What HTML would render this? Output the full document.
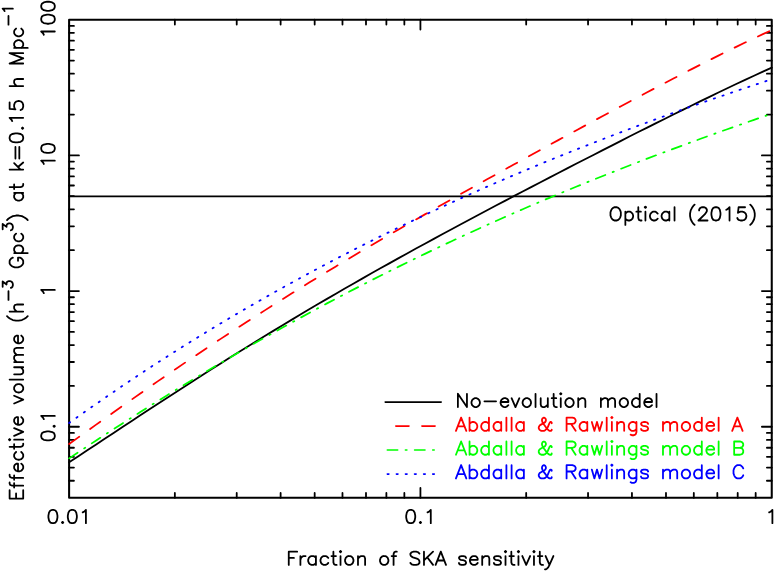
<!DOCTYPE html>
<html><head><meta charset="utf-8"><title>Effective volume vs fraction of SKA sensitivity</title>
<style>
html,body{margin:0;padding:0;background:#fff;}
body{width:774px;height:572px;overflow:hidden;font-family:"Liberation Sans",sans-serif;}
svg{display:block;}
</style></head><body>
<svg width="774" height="572" viewBox="0 0 774 572">
<title>Effective volume (h^-3 Gpc^3) at k=0.15 h Mpc^-1 versus Fraction of SKA sensitivity</title>
<rect width="774" height="572" fill="#fff"/>
<g fill="none" stroke="#000" stroke-linecap="round" stroke-linejoin="round">
<rect x="69.1" y="19.7" width="702.65" height="478.05" stroke-width="2.05"/>
<path d="M174.86,497.75 V492.90 M174.86,19.7 V24.55 M236.72,497.75 V492.90 M236.72,19.7 V24.55 M280.62,497.75 V492.90 M280.62,19.7 V24.55 M314.67,497.75 V492.90 M314.67,19.7 V24.55 M342.48,497.75 V492.90 M342.48,19.7 V24.55 M366.00,497.75 V492.90 M366.00,19.7 V24.55 M386.38,497.75 V492.90 M386.38,19.7 V24.55 M404.35,497.75 V492.90 M404.35,19.7 V24.55 M420.42,497.75 V487.90 M420.42,19.7 V29.55 M526.18,497.75 V492.90 M526.18,19.7 V24.55 M588.05,497.75 V492.90 M588.05,19.7 V24.55 M631.94,497.75 V492.90 M631.94,19.7 V24.55 M665.99,497.75 V492.90 M665.99,19.7 V24.55 M693.81,497.75 V492.90 M693.81,19.7 V24.55 M717.33,497.75 V492.90 M717.33,19.7 V24.55 M737.70,497.75 V492.90 M737.70,19.7 V24.55 M755.67,497.75 V492.90 M755.67,19.7 V24.55 M69.1,480.73 H73.95 M771.75,480.73 H766.90 M69.1,467.58 H73.95 M771.75,467.58 H766.90 M69.1,456.84 H73.95 M771.75,456.84 H766.90 M69.1,447.76 H73.95 M771.75,447.76 H766.90 M69.1,439.89 H73.95 M771.75,439.89 H766.90 M69.1,432.95 H73.95 M771.75,432.95 H766.90 M69.1,426.74 H78.95 M771.75,426.74 H761.90 M69.1,385.90 H73.95 M771.75,385.90 H766.90 M69.1,362.00 H73.95 M771.75,362.00 H766.90 M69.1,345.05 H73.95 M771.75,345.05 H766.90 M69.1,331.90 H73.95 M771.75,331.90 H766.90 M69.1,321.16 H73.95 M771.75,321.16 H766.90 M69.1,312.08 H73.95 M771.75,312.08 H766.90 M69.1,304.21 H73.95 M771.75,304.21 H766.90 M69.1,297.27 H73.95 M771.75,297.27 H766.90 M69.1,291.06 H78.95 M771.75,291.06 H761.90 M69.1,250.22 H73.95 M771.75,250.22 H766.90 M69.1,226.32 H73.95 M771.75,226.32 H766.90 M69.1,209.37 H73.95 M771.75,209.37 H766.90 M69.1,196.22 H73.95 M771.75,196.22 H766.90 M69.1,185.48 H73.95 M771.75,185.48 H766.90 M69.1,176.40 H73.95 M771.75,176.40 H766.90 M69.1,168.53 H73.95 M771.75,168.53 H766.90 M69.1,161.59 H73.95 M771.75,161.59 H766.90 M69.1,155.38 H78.95 M771.75,155.38 H761.90 M69.1,114.54 H73.95 M771.75,114.54 H766.90 M69.1,90.64 H73.95 M771.75,90.64 H766.90 M69.1,73.69 H73.95 M771.75,73.69 H766.90 M69.1,60.54 H73.95 M771.75,60.54 H766.90 M69.1,49.80 H73.95 M771.75,49.80 H766.90 M69.1,40.72 H73.95 M771.75,40.72 H766.90 M69.1,32.85 H73.95 M771.75,32.85 H766.90 M69.1,25.91 H73.95 M771.75,25.91 H766.90" stroke-width="1.8"/>
</g>
<g fill="none" stroke-linecap="round" stroke-linejoin="round">
<path d="M69.1,196.35 H771.75" stroke="#000" stroke-width="1.6" stroke-linecap="butt"/>
<path d="M69.1,462.31 L78.0,456.46 L86.9,450.59 L95.8,444.71 L104.7,438.83 L113.6,432.96 L122.5,427.08 L131.4,421.22 L140.3,415.37 L149.1,409.53 L158.0,403.71 L166.9,397.91 L175.8,392.14 L184.7,386.39 L193.6,380.66 L202.5,374.97 L211.4,369.31 L220.3,363.68 L229.2,358.08 L238.1,352.52 L247.0,346.99 L255.9,341.49 L264.8,336.04 L273.7,330.61 L282.6,325.23 L291.5,319.88 L300.4,314.57 L309.2,309.29 L318.1,304.05 L327.0,298.85 L335.9,293.68 L344.8,288.54 L353.7,283.44 L362.6,278.37 L371.5,273.33 L380.4,268.32 L389.3,263.34 L398.2,258.39 L407.1,253.47 L416.0,248.57 L424.9,243.70 L433.8,238.86 L442.7,234.03 L451.6,229.23 L460.4,224.45 L469.3,219.69 L478.2,214.95 L487.1,210.23 L496.0,205.52 L504.9,200.83 L513.8,196.16 L522.7,191.50 L531.6,186.85 L540.5,182.22 L549.4,177.60 L558.3,172.99 L567.2,168.40 L576.1,163.81 L585.0,159.24 L593.9,154.68 L602.8,150.13 L611.7,145.60 L620.5,141.08 L629.4,136.57 L638.3,132.07 L647.2,127.60 L656.1,123.13 L665.0,118.69 L673.9,114.27 L682.8,109.87 L691.7,105.49 L700.6,101.14 L709.5,96.82 L718.4,92.53 L727.3,88.27 L736.2,84.06 L745.1,79.88 L754.0,75.75 L762.9,71.67 L771.8,67.65" stroke="#000" stroke-width="1.8"/>
<path d="M69.1,444.04 L78.0,437.64 L86.9,431.27 L95.8,424.91 L104.7,418.57 L113.6,412.26 L122.5,405.97 L131.4,399.72 L140.3,393.49 L149.1,387.30 L158.0,381.15 L166.9,375.03 L175.8,368.95 L184.7,362.90 L193.6,356.90 L202.5,350.94 L211.4,345.02 L220.3,339.14 L229.2,333.30 L238.1,327.50 L247.0,321.75 L255.9,316.04 L264.8,310.37 L273.7,304.73 L282.6,299.14 L291.5,293.59 L300.4,288.08 L309.2,282.60 L318.1,277.16 L327.0,271.76 L335.9,266.39 L344.8,261.06 L353.7,255.76 L362.6,250.49 L371.5,245.25 L380.4,240.04 L389.3,234.85 L398.2,229.70 L407.1,224.57 L416.0,219.46 L424.9,214.37 L433.8,209.31 L442.7,204.26 L451.6,199.24 L460.4,194.23 L469.3,189.24 L478.2,184.27 L487.1,179.31 L496.0,174.37 L504.9,169.44 L513.8,164.52 L522.7,159.61 L531.6,154.72 L540.5,149.84 L549.4,144.97 L558.3,140.11 L567.2,135.27 L576.1,130.43 L585.0,125.61 L593.9,120.80 L602.8,116.00 L611.7,111.22 L620.5,106.46 L629.4,101.71 L638.3,96.98 L647.2,92.27 L656.1,87.58 L665.0,82.92 L673.9,78.28 L682.8,73.68 L691.7,69.11 L700.6,64.57 L709.5,60.07 L718.4,55.62 L727.3,51.21 L736.2,46.86 L745.1,42.56 L754.0,38.32 L762.9,34.15 L771.8,30.05" stroke="#f00" stroke-width="1.75" stroke-dasharray="12.5 13.35"/>
<path d="M69.1,458.38 L78.0,452.46 L86.9,446.57 L95.8,440.73 L104.7,434.92 L113.6,429.16 L122.5,423.44 L131.4,417.75 L140.3,412.11 L149.1,406.51 L158.0,400.96 L166.9,395.44 L175.8,389.96 L184.7,384.53 L193.6,379.14 L202.5,373.79 L211.4,368.49 L220.3,363.22 L229.2,358.00 L238.1,352.83 L247.0,347.69 L255.9,342.60 L264.8,337.55 L273.7,332.54 L282.6,327.58 L291.5,322.65 L300.4,317.77 L309.2,312.94 L318.1,308.14 L327.0,303.39 L335.9,298.68 L344.8,294.01 L353.7,289.39 L362.6,284.80 L371.5,280.26 L380.4,275.76 L389.3,271.30 L398.2,266.89 L407.1,262.51 L416.0,258.17 L424.9,253.88 L433.8,249.62 L442.7,245.41 L451.6,241.23 L460.4,237.10 L469.3,233.00 L478.2,228.94 L487.1,224.92 L496.0,220.94 L504.9,216.99 L513.8,213.09 L522.7,209.22 L531.6,205.38 L540.5,201.59 L549.4,197.82 L558.3,194.10 L567.2,190.40 L576.1,186.74 L585.0,183.12 L593.9,179.53 L602.8,175.97 L611.7,172.44 L620.5,168.95 L629.4,165.48 L638.3,162.05 L647.2,158.64 L656.1,155.26 L665.0,151.92 L673.9,148.60 L682.8,145.30 L691.7,142.04 L700.6,138.80 L709.5,135.58 L718.4,132.39 L727.3,129.22 L736.2,126.07 L745.1,122.95 L754.0,119.85 L762.9,116.77 L771.8,113.70" stroke="#0f0" stroke-width="1.75" stroke-dasharray="10.2 7.83 1.3 7.83"/>
<path d="M69.1,423.08 L78.0,416.71 L86.9,410.41 L95.8,404.17 L104.7,398.01 L113.6,391.91 L122.5,385.87 L131.4,379.90 L140.3,374.00 L149.1,368.16 L158.0,362.38 L166.9,356.66 L175.8,351.01 L184.7,345.42 L193.6,339.88 L202.5,334.41 L211.4,328.99 L220.3,323.64 L229.2,318.34 L238.1,313.09 L247.0,307.90 L255.9,302.77 L264.8,297.70 L273.7,292.67 L282.6,287.70 L291.5,282.79 L300.4,277.92 L309.2,273.11 L318.1,268.34 L327.0,263.63 L335.9,258.97 L344.8,254.35 L353.7,249.79 L362.6,245.27 L371.5,240.80 L380.4,236.37 L389.3,231.99 L398.2,227.66 L407.1,223.37 L416.0,219.12 L424.9,214.92 L433.8,210.76 L442.7,206.65 L451.6,202.57 L460.4,198.54 L469.3,194.54 L478.2,190.59 L487.1,186.68 L496.0,182.80 L504.9,178.97 L513.8,175.17 L522.7,171.41 L531.6,167.68 L540.5,164.00 L549.4,160.34 L558.3,156.73 L567.2,153.15 L576.1,149.60 L585.0,146.08 L593.9,142.60 L602.8,139.16 L611.7,135.74 L620.5,132.36 L629.4,129.00 L638.3,125.68 L647.2,122.39 L656.1,119.13 L665.0,115.90 L673.9,112.70 L682.8,109.52 L691.7,106.38 L700.6,103.26 L709.5,100.17 L718.4,97.10 L727.3,94.07 L736.2,91.05 L745.1,88.07 L754.0,85.11 L762.9,82.17 L771.8,79.26" stroke="#00f" stroke-width="1.8" stroke-dasharray="1.3 7.755"/>
<path d="M385.2,402.1 H441.2" stroke="#000" stroke-width="1.6"/>
<path d="M395.8,426.1 H441.2" stroke="#f00" stroke-width="1.6" stroke-dasharray="13.2 12.9"/>
<path d="M387.3,450 H441.2" stroke="#0f0" stroke-width="1.6" stroke-dasharray="10.4 7.7 1.5 7.7"/>
<path d="M387.3,474.1 H441.2" stroke="#00f" stroke-width="1.6" stroke-dasharray="1.6 7.48"/>
</g>
<g fill="none" stroke-width="1.8" stroke-linecap="round" stroke-linejoin="round">
<path stroke="#000" d="M52.28,509.88L50.34,510.51L49.04,512.41L48.40,515.57L48.40,517.46L49.04,520.62L50.34,522.52L52.28,523.15L53.57,523.15L55.51,522.52L56.81,520.62L57.45,517.46L57.45,515.57L56.81,512.41L55.51,510.51L53.57,509.88L52.28,509.88 M62.63,521.89L61.98,522.52L62.63,523.15L63.28,522.52L62.63,521.89 M71.69,509.88L69.75,510.51L68.45,512.41L67.81,515.57L67.81,517.46L68.45,520.62L69.75,522.52L71.69,523.15L72.98,523.15L74.92,522.52L76.22,520.62L76.86,517.46L76.86,515.57L76.22,512.41L74.92,510.51L72.98,509.88L71.69,509.88 M82.69,512.41L83.98,511.77L85.92,509.88L85.92,523.15 M410.07,509.88L408.13,510.51L406.84,512.41L406.19,515.57L406.19,517.46L406.84,520.62L408.13,522.52L410.07,523.15L411.37,523.15L413.31,522.52L414.60,520.62L415.25,517.46L415.25,515.57L414.60,512.41L413.31,510.51L411.37,509.88L410.07,509.88 M420.42,521.89L419.78,522.52L420.42,523.15L421.07,522.52L420.42,521.89 M427.54,512.41L428.84,511.77L430.78,509.88L430.78,523.15 M769.16,512.41L770.46,511.77L772.40,509.88L772.40,523.15 M288.76,551.63L288.76,564.90 M288.76,551.63L297.17,551.63 M288.76,557.95L293.94,557.95 M300.41,556.05L300.41,564.90 M300.41,559.84L301.05,557.95L302.35,556.68L303.64,556.05L305.58,556.05 M315.93,556.05L315.93,564.90 M315.93,557.95L314.64,556.68L313.35,556.05L311.41,556.05L310.11,556.68L308.82,557.95L308.17,559.84L308.17,561.11L308.82,563.00L310.11,564.27L311.41,564.90L313.35,564.90L314.64,564.27L315.93,563.00 M328.23,557.95L326.93,556.68L325.64,556.05L323.70,556.05L322.40,556.68L321.11,557.95L320.46,559.84L320.46,561.11L321.11,563.00L322.40,564.27L323.70,564.90L325.64,564.90L326.93,564.27L328.23,563.00 M333.40,551.63L333.40,562.37L334.05,564.27L335.34,564.90L336.64,564.90 M331.46,556.05L335.99,556.05 M339.87,551.63L340.52,552.26L341.17,551.63L340.52,551.00L339.87,551.63 M340.52,556.05L340.52,564.90 M348.28,556.05L346.99,556.68L345.70,557.95L345.05,559.84L345.05,561.11L345.70,563.00L346.99,564.27L348.28,564.90L350.23,564.90L351.52,564.27L352.81,563.00L353.46,561.11L353.46,559.84L352.81,557.95L351.52,556.68L350.23,556.05L348.28,556.05 M357.99,556.05L357.99,564.90 M357.99,558.58L359.93,556.68L361.22,556.05L363.17,556.05L364.46,556.68L365.11,558.58L365.11,564.90 M383.22,556.05L381.93,556.68L380.63,557.95L379.99,559.84L379.99,561.11L380.63,563.00L381.93,564.27L383.22,564.90L385.16,564.90L386.46,564.27L387.75,563.00L388.40,561.11L388.40,559.84L387.75,557.95L386.46,556.68L385.16,556.05L383.22,556.05 M396.81,551.63L395.52,551.63L394.22,552.26L393.57,554.16L393.57,564.90 M391.63,556.05L396.16,556.05 M419.45,553.52L418.16,552.26L416.22,551.63L413.63,551.63L411.69,552.26L410.40,553.52L410.40,554.79L411.04,556.05L411.69,556.68L412.98,557.32L416.87,558.58L418.16,559.21L418.81,559.84L419.45,561.11L419.45,563.00L418.16,564.27L416.22,564.90L413.63,564.90L411.69,564.27L410.40,563.00 M423.98,551.63L423.98,564.90 M433.04,551.63L423.98,560.48 M427.22,557.32L433.04,564.90 M440.81,551.63L435.63,564.90 M440.81,551.63L445.98,564.90 M437.57,560.48L444.04,560.48 M466.04,557.95L465.39,556.68L463.45,556.05L461.51,556.05L459.57,556.68L458.92,557.95L459.57,559.21L460.86,559.84L464.10,560.48L465.39,561.11L466.04,562.37L466.04,563.00L465.39,564.27L463.45,564.90L461.51,564.90L459.57,564.27L458.92,563.00 M469.92,559.84L477.68,559.84L477.68,558.58L477.04,557.32L476.39,556.68L475.10,556.05L473.16,556.05L471.86,556.68L470.57,557.95L469.92,559.84L469.92,561.11L470.57,563.00L471.86,564.27L473.16,564.90L475.10,564.90L476.39,564.27L477.68,563.00 M482.21,556.05L482.21,564.90 M482.21,558.58L484.15,556.68L485.45,556.05L487.39,556.05L488.68,556.68L489.33,558.58L489.33,564.90 M500.98,557.95L500.33,556.68L498.39,556.05L496.45,556.05L494.51,556.68L493.86,557.95L494.51,559.21L495.80,559.84L499.04,560.48L500.33,561.11L500.98,562.37L500.98,563.00L500.33,564.27L498.39,564.90L496.45,564.90L494.51,564.27L493.86,563.00 M504.86,551.63L505.51,552.26L506.15,551.63L505.51,551.00L504.86,551.63 M505.51,556.05L505.51,564.90 M511.33,551.63L511.33,562.37L511.98,564.27L513.27,564.90L514.56,564.90 M509.39,556.05L513.92,556.05 M517.80,551.63L518.45,552.26L519.09,551.63L518.45,551.00L517.80,551.63 M518.45,556.05L518.45,564.90 M522.33,556.05L526.21,564.90 M530.09,556.05L526.21,564.90 M533.33,551.63L533.97,552.26L534.62,551.63L533.97,551.00L533.33,551.63 M533.97,556.05L533.97,564.90 M539.80,551.63L539.80,562.37L540.44,564.27L541.74,564.90L543.03,564.90 M537.86,556.05L542.38,556.05 M545.62,556.05L549.50,564.90 M553.38,556.05L549.50,564.90L548.21,567.43L546.91,568.69L545.62,569.32L544.97,569.32 M43.80,34.73L43.15,33.43L41.21,31.49L54.80,31.49 M41.21,19.85L41.86,21.79L43.80,23.08L47.04,23.73L48.98,23.73L52.21,23.08L54.15,21.79L54.80,19.85L54.80,18.55L54.15,16.61L52.21,15.32L48.98,14.67L47.04,14.67L43.80,15.32L41.86,16.61L41.21,18.55L41.21,19.85 M41.21,6.91L41.86,8.85L43.80,10.14L47.04,10.79L48.98,10.79L52.21,10.14L54.15,8.85L54.80,6.91L54.80,5.61L54.15,3.67L52.21,2.38L48.98,1.73L47.04,1.73L43.80,2.38L41.86,3.67L41.21,5.61L41.21,6.91 M43.80,163.94L43.15,162.64L41.21,160.70L54.80,160.70 M41.21,149.06L41.86,151.00L43.80,152.29L47.04,152.94L48.98,152.94L52.21,152.29L54.15,151.00L54.80,149.06L54.80,147.76L54.15,145.82L52.21,144.53L48.98,143.88L47.04,143.88L43.80,144.53L41.86,145.82L41.21,147.76L41.21,149.06 M43.80,293.15L43.15,291.85L41.21,289.91L54.80,289.91 M41.21,436.59L41.86,438.53L43.80,439.83L47.04,440.47L48.98,440.47L52.21,439.83L54.15,438.53L54.80,436.59L54.80,435.30L54.15,433.36L52.21,432.06L48.98,431.42L47.04,431.42L43.80,432.06L41.86,433.36L41.21,435.30L41.21,436.59 M53.51,426.24L54.15,426.89L54.80,426.24L54.15,425.59L53.51,426.24 M43.80,419.12L43.15,417.83L41.21,415.89L54.80,415.89 M9.61,498.59L23.20,498.59 M9.61,498.59L9.61,490.17 M16.08,498.59L16.08,493.41 M23.20,498.59L23.20,490.17 M9.61,482.41L9.61,483.70L10.26,485.00L12.20,485.65L23.20,485.65 M14.14,487.59L14.14,483.06 M9.61,474.65L9.61,475.94L10.26,477.23L12.20,477.88L23.20,477.88 M14.14,479.82L14.14,475.29 M18.02,471.41L18.02,463.65L16.73,463.65L15.44,464.29L14.79,464.94L14.14,466.24L14.14,468.18L14.79,469.47L16.08,470.76L18.02,471.41L19.32,471.41L21.26,470.76L22.55,469.47L23.20,468.18L23.20,466.24L22.55,464.94L21.26,463.65 M16.08,452.00L14.79,453.30L14.14,454.59L14.14,456.53L14.79,457.82L16.08,459.12L18.02,459.77L19.32,459.77L21.26,459.12L22.55,457.82L23.20,456.53L23.20,454.59L22.55,453.30L21.26,452.00 M9.61,446.83L20.61,446.83L22.55,446.18L23.20,444.88L23.20,443.59 M14.14,448.77L14.14,444.24 M9.61,440.36L10.26,439.71L9.61,439.06L8.97,439.71L9.61,440.36 M14.14,439.71L23.20,439.71 M14.14,435.83L23.20,431.94 M14.14,428.06L23.20,431.94 M18.02,424.83L18.02,417.06L16.73,417.06L15.44,417.71L14.79,418.36L14.14,419.65L14.14,421.59L14.79,422.89L16.08,424.18L18.02,424.83L19.32,424.83L21.26,424.18L22.55,422.89L23.20,421.59L23.20,419.65L22.55,418.36L21.26,417.06 M14.14,403.48L23.20,399.59 M14.14,395.71L23.20,399.59 M14.14,389.24L14.79,390.54L16.08,391.83L18.02,392.48L19.32,392.48L21.26,391.83L22.55,390.54L23.20,389.24L23.20,387.30L22.55,386.01L21.26,384.71L19.32,384.07L18.02,384.07L16.08,384.71L14.79,386.01L14.14,387.30L14.14,389.24 M9.61,379.54L23.20,379.54 M14.14,374.36L20.61,374.36L22.55,373.71L23.20,372.42L23.20,370.48L22.55,369.19L20.61,367.24 M14.14,367.24L23.20,367.24 M14.14,362.07L23.20,362.07 M16.73,362.07L14.79,360.13L14.14,358.83L14.14,356.89L14.79,355.60L16.73,354.95L23.20,354.95 M16.73,354.95L14.79,353.01L14.14,351.72L14.14,349.78L14.79,348.48L16.73,347.83L23.20,347.83 M18.02,343.31L18.02,335.54L16.73,335.54L15.44,336.19L14.79,336.84L14.14,338.13L14.14,340.07L14.79,341.36L16.08,342.66L18.02,343.31L19.32,343.31L21.26,342.66L22.55,341.36L23.20,340.07L23.20,338.13L22.55,336.84L21.26,335.54 M7.02,316.13L8.32,317.43L10.26,318.72L12.85,320.01L16.08,320.66L18.67,320.66L21.91,320.01L24.49,318.72L26.43,317.43L27.73,316.13 M9.61,311.60L23.20,311.60 M16.73,311.60L14.79,309.66L14.14,308.37L14.14,306.43L14.79,305.13L16.73,304.49L23.20,304.49 M8.48,299.96L8.48,291.22 M2.66,286.85L2.66,281.52L6.54,284.43L6.54,282.97L7.02,282.00L7.51,281.52L8.97,281.03L9.94,281.03L11.39,281.52L12.36,282.49L12.85,283.94L12.85,285.40L12.36,286.85L11.88,287.34L10.91,287.82 M12.85,257.58L11.55,258.22L10.26,259.52L9.61,260.81L9.61,263.40L10.26,264.69L11.55,265.99L12.85,266.64L14.79,267.28L18.02,267.28L19.96,266.64L21.26,265.99L22.55,264.69L23.20,263.40L23.20,260.81L22.55,259.52L21.26,258.22L19.96,257.58L18.02,257.58 M18.02,260.81L18.02,257.58 M14.14,253.05L27.73,253.05 M16.08,253.05L14.79,251.75L14.14,250.46L14.14,248.52L14.79,247.23L16.08,245.93L18.02,245.28L19.32,245.28L21.26,245.93L22.55,247.23L23.20,248.52L23.20,250.46L22.55,251.75L21.26,253.05 M16.08,233.64L14.79,234.93L14.14,236.23L14.14,238.17L14.79,239.46L16.08,240.76L18.02,241.40L19.32,241.40L21.26,240.76L22.55,239.46L23.20,238.17L23.20,236.23L22.55,234.93L21.26,233.64 M2.66,229.27L2.66,223.93L6.54,226.85L6.54,225.39L7.02,224.42L7.51,223.93L8.97,223.45L9.94,223.45L11.39,223.93L12.36,224.90L12.85,226.36L12.85,227.82L12.36,229.27L11.88,229.76L10.91,230.24 M7.02,220.05L8.32,218.76L10.26,217.46L12.85,216.17L16.08,215.52L18.67,215.52L21.91,216.17L24.49,217.46L26.43,218.76L27.73,220.05 M14.14,192.88L23.20,192.88 M16.08,192.88L14.79,194.17L14.14,195.47L14.14,197.41L14.79,198.70L16.08,199.99L18.02,200.64L19.32,200.64L21.26,199.99L22.55,198.70L23.20,197.41L23.20,195.47L22.55,194.17L21.26,192.88 M9.61,187.05L20.61,187.05L22.55,186.41L23.20,185.11L23.20,183.82 M14.14,189.00L14.14,184.47 M9.61,169.59L23.20,169.59 M14.14,163.12L20.61,169.59 M18.02,167.00L23.20,162.47 M15.44,158.59L15.44,146.94 M19.32,158.59L19.32,146.94 M9.61,138.53L10.26,140.47L12.20,141.76L15.44,142.41L17.38,142.41L20.61,141.76L22.55,140.47L23.20,138.53L23.20,137.24L22.55,135.29L20.61,134.00L17.38,133.35L15.44,133.35L12.20,134.00L10.26,135.29L9.61,137.24L9.61,138.53 M21.91,128.18L22.55,128.82L23.20,128.18L22.55,127.53L21.91,128.18 M12.20,121.06L11.55,119.77L9.61,117.83L23.20,117.83 M9.61,102.30L9.61,108.77L15.44,109.41L14.79,108.77L14.14,106.83L14.14,104.89L14.79,102.94L16.08,101.65L18.02,101.00L19.32,101.00L21.26,101.65L22.55,102.94L23.20,104.89L23.20,106.83L22.55,108.77L21.91,109.41L20.61,110.06 M9.61,86.12L23.20,86.12 M16.73,86.12L14.79,84.18L14.14,82.89L14.14,80.95L14.79,79.65L16.73,79.01L23.20,79.01 M9.61,63.48L23.20,63.48 M9.61,63.48L23.20,58.30 M9.61,53.13L23.20,58.30 M9.61,53.13L23.20,53.13 M14.14,47.95L27.73,47.95 M16.08,47.95L14.79,46.66L14.14,45.36L14.14,43.42L14.79,42.13L16.08,40.83L18.02,40.19L19.32,40.19L21.26,40.83L22.55,42.13L23.20,43.42L23.20,45.36L22.55,46.66L21.26,47.95 M16.08,28.54L14.79,29.83L14.14,31.13L14.14,33.07L14.79,34.36L16.08,35.66L18.02,36.30L19.32,36.30L21.26,35.66L22.55,34.36L23.20,33.07L23.20,31.13L22.55,29.83L21.26,28.54 M8.48,24.66L8.48,15.92 M4.60,11.07L4.11,10.10L2.66,8.64L12.85,8.64 M614.36,207.23L613.07,207.86L611.77,209.12L611.13,210.39L610.48,212.28L610.48,215.44L611.13,217.34L611.77,218.60L613.07,219.87L614.36,220.50L616.95,220.50L618.25,219.87L619.54,218.60L620.19,217.34L620.83,215.44L620.83,212.28L620.19,210.39L619.54,209.12L618.25,207.86L616.95,207.23L614.36,207.23 M625.36,211.65L625.36,224.92 M625.36,213.55L626.66,212.28L627.95,211.65L629.89,211.65L631.19,212.28L632.48,213.55L633.13,215.44L633.13,216.71L632.48,218.60L631.19,219.87L629.89,220.50L627.95,220.50L626.66,219.87L625.36,218.60 M638.30,207.23L638.30,217.97L638.95,219.87L640.24,220.50L641.54,220.50 M636.36,211.65L640.89,211.65 M644.77,207.23L645.42,207.86L646.07,207.23L645.42,206.60L644.77,207.23 M645.42,211.65L645.42,220.50 M657.71,213.55L656.42,212.28L655.12,211.65L653.18,211.65L651.89,212.28L650.60,213.55L649.95,215.44L649.95,216.71L650.60,218.60L651.89,219.87L653.18,220.50L655.12,220.50L656.42,219.87L657.71,218.60 M669.36,211.65L669.36,220.50 M669.36,213.55L668.06,212.28L666.77,211.65L664.83,211.65L663.54,212.28L662.24,213.55L661.59,215.44L661.59,216.71L662.24,218.60L663.54,219.87L664.83,220.50L666.77,220.50L668.06,219.87L669.36,218.60 M674.53,207.23L674.53,220.50 M694.59,204.70L693.30,205.96L692.00,207.86L690.71,210.39L690.06,213.55L690.06,216.08L690.71,219.24L692.00,221.76L693.30,223.66L694.59,224.92 M699.12,210.39L699.12,209.76L699.77,208.49L700.41,207.86L701.71,207.23L704.30,207.23L705.59,207.86L706.24,208.49L706.88,209.76L706.88,211.02L706.24,212.28L704.94,214.18L698.47,220.50L707.53,220.50 M715.30,207.23L713.35,207.86L712.06,209.76L711.41,212.92L711.41,214.81L712.06,217.97L713.35,219.87L715.30,220.50L716.59,220.50L718.53,219.87L719.82,217.97L720.47,214.81L720.47,212.92L719.82,209.76L718.53,207.86L716.59,207.23L715.30,207.23 M726.29,209.76L727.59,209.12L729.53,207.23L729.53,220.50 M745.06,207.23L738.59,207.23L737.94,212.92L738.59,212.28L740.53,211.65L742.47,211.65L744.41,212.28L745.70,213.55L746.35,215.44L746.35,216.71L745.70,218.60L744.41,219.87L742.47,220.50L740.53,220.50L738.59,219.87L737.94,219.24L737.29,217.97 M750.23,204.70L751.53,205.96L752.82,207.86L754.12,210.39L754.76,213.55L754.76,216.08L754.12,219.24L752.82,221.76L751.53,223.66L750.23,224.92 M457.89,393.78L457.89,407.05 M457.89,393.78L466.95,407.05 M466.95,393.78L466.95,407.05 M474.71,398.20L473.42,398.83L472.12,400.10L471.48,401.99L471.48,403.26L472.12,405.15L473.42,406.42L474.71,407.05L476.65,407.05L477.94,406.42L479.24,405.15L479.89,403.26L479.89,401.99L479.24,400.10L477.94,398.83L476.65,398.20L474.71,398.20 M484.42,401.36L496.06,401.36 M500.59,401.99L508.35,401.99L508.35,400.73L507.71,399.47L507.06,398.83L505.77,398.20L503.82,398.20L502.53,398.83L501.24,400.10L500.59,401.99L500.59,403.26L501.24,405.15L502.53,406.42L503.82,407.05L505.77,407.05L507.06,406.42L508.35,405.15 M511.59,398.20L515.47,407.05 M519.35,398.20L515.47,407.05 M525.82,398.20L524.53,398.83L523.24,400.10L522.59,401.99L522.59,403.26L523.24,405.15L524.53,406.42L525.82,407.05L527.76,407.05L529.06,406.42L530.35,405.15L531.00,403.26L531.00,401.99L530.35,400.10L529.06,398.83L527.76,398.20L525.82,398.20 M535.53,393.78L535.53,407.05 M540.70,398.20L540.70,404.52L541.35,406.42L542.64,407.05L544.59,407.05L545.88,406.42L547.82,404.52 M547.82,398.20L547.82,407.05 M553.64,393.78L553.64,404.52L554.29,406.42L555.59,407.05L556.88,407.05 M551.70,398.20L556.23,398.20 M560.11,393.78L560.76,394.41L561.41,393.78L560.76,393.15L560.11,393.78 M560.76,398.20L560.76,407.05 M568.52,398.20L567.23,398.83L565.94,400.10L565.29,401.99L565.29,403.26L565.94,405.15L567.23,406.42L568.52,407.05L570.47,407.05L571.76,406.42L573.05,405.15L573.70,403.26L573.70,401.99L573.05,400.10L571.76,398.83L570.47,398.20L568.52,398.20 M578.23,398.20L578.23,407.05 M578.23,400.73L580.17,398.83L581.47,398.20L583.41,398.20L584.70,398.83L585.35,400.73L585.35,407.05 M600.88,398.20L600.88,407.05 M600.88,400.73L602.82,398.83L604.11,398.20L606.05,398.20L607.35,398.83L607.99,400.73L607.99,407.05 M607.99,400.73L609.93,398.83L611.23,398.20L613.17,398.20L614.46,398.83L615.11,400.73L615.11,407.05 M622.87,398.20L621.58,398.83L620.29,400.10L619.64,401.99L619.64,403.26L620.29,405.15L621.58,406.42L622.87,407.05L624.81,407.05L626.11,406.42L627.40,405.15L628.05,403.26L628.05,401.99L627.40,400.10L626.11,398.83L624.81,398.20L622.87,398.20 M639.70,393.78L639.70,407.05 M639.70,400.10L638.40,398.83L637.11,398.20L635.17,398.20L633.87,398.83L632.58,400.10L631.93,401.99L631.93,403.26L632.58,405.15L633.87,406.42L635.17,407.05L637.11,407.05L638.40,406.42L639.70,405.15 M644.22,401.99L651.99,401.99L651.99,400.73L651.34,399.47L650.69,398.83L649.40,398.20L647.46,398.20L646.16,398.83L644.87,400.10L644.22,401.99L644.22,403.26L644.87,405.15L646.16,406.42L647.46,407.05L649.40,407.05L650.69,406.42L651.99,405.15 M656.52,393.78L656.52,407.05"/>
<path stroke="#f00" d="M461.12,417.58L455.95,430.85 M461.12,417.58L466.30,430.85 M457.89,426.43L464.36,426.43 M469.53,417.58L469.53,430.85 M469.53,423.90L470.83,422.63L472.12,422.00L474.06,422.00L475.36,422.63L476.65,423.90L477.30,425.79L477.30,427.06L476.65,428.95L475.36,430.22L474.06,430.85L472.12,430.85L470.83,430.22L469.53,428.95 M488.94,417.58L488.94,430.85 M488.94,423.90L487.65,422.63L486.36,422.00L484.42,422.00L483.12,422.63L481.83,423.90L481.18,425.79L481.18,427.06L481.83,428.95L483.12,430.22L484.42,430.85L486.36,430.85L487.65,430.22L488.94,428.95 M501.24,422.00L501.24,430.85 M501.24,423.90L499.94,422.63L498.65,422.00L496.71,422.00L495.41,422.63L494.12,423.90L493.47,425.79L493.47,427.06L494.12,428.95L495.41,430.22L496.71,430.85L498.65,430.85L499.94,430.22L501.24,428.95 M506.41,417.58L506.41,430.85 M511.59,417.58L511.59,430.85 M523.88,422.00L523.88,430.85 M523.88,423.90L522.59,422.63L521.29,422.00L519.35,422.00L518.06,422.63L516.76,423.90L516.12,425.79L516.12,427.06L516.76,428.95L518.06,430.22L519.35,430.85L521.29,430.85L522.59,430.22L523.88,428.95 M551.70,423.27L551.70,422.63L551.06,422.00L550.41,422.00L549.76,422.63L549.12,423.90L547.82,427.06L546.53,428.95L545.23,430.22L543.94,430.85L541.35,430.85L540.06,430.22L539.41,429.59L538.76,428.32L538.76,427.06L539.41,425.79L540.06,425.16L544.59,422.63L545.23,422.00L545.88,420.74L545.88,419.47L545.23,418.21L543.94,417.58L542.64,418.21L542.00,419.47L542.00,420.74L542.64,422.63L543.94,424.53L547.17,428.95L548.47,430.22L549.76,430.85L551.06,430.85L551.70,430.22L551.70,429.59 M566.58,417.58L566.58,430.85 M566.58,417.58L572.41,417.58L574.35,418.21L575.00,418.84L575.64,420.11L575.64,421.37L575.00,422.63L574.35,423.27L572.41,423.90L566.58,423.90 M571.11,423.90L575.64,430.85 M587.29,422.00L587.29,430.85 M587.29,423.90L585.99,422.63L584.70,422.00L582.76,422.00L581.47,422.63L580.17,423.90L579.52,425.79L579.52,427.06L580.17,428.95L581.47,430.22L582.76,430.85L584.70,430.85L585.99,430.22L587.29,428.95 M591.82,422.00L594.40,430.85 M596.99,422.00L594.40,430.85 M596.99,422.00L599.58,430.85 M602.17,422.00L599.58,430.85 M606.70,417.58L606.70,430.85 M611.23,417.58L611.87,418.21L612.52,417.58L611.87,416.95L611.23,417.58 M611.87,422.00L611.87,430.85 M617.05,422.00L617.05,430.85 M617.05,424.53L618.99,422.63L620.29,422.00L622.23,422.00L623.52,422.63L624.17,424.53L624.17,430.85 M636.46,422.00L636.46,432.11L635.81,434.01L635.17,434.64L633.87,435.27L631.93,435.27L630.64,434.64 M636.46,423.90L635.17,422.63L633.87,422.00L631.93,422.00L630.64,422.63L629.34,423.90L628.70,425.79L628.70,427.06L629.34,428.95L630.64,430.22L631.93,430.85L633.87,430.85L635.17,430.22L636.46,428.95 M648.11,423.90L647.46,422.63L645.52,422.00L643.58,422.00L641.64,422.63L640.99,423.90L641.64,425.16L642.93,425.79L646.16,426.43L647.46,427.06L648.11,428.32L648.11,428.95L647.46,430.22L645.52,430.85L643.58,430.85L641.64,430.22L640.99,428.95 M662.99,422.00L662.99,430.85 M662.99,424.53L664.93,422.63L666.22,422.00L668.16,422.00L669.46,422.63L670.10,424.53L670.10,430.85 M670.10,424.53L672.05,422.63L673.34,422.00L675.28,422.00L676.57,422.63L677.22,424.53L677.22,430.85 M684.99,422.00L683.69,422.63L682.40,423.90L681.75,425.79L681.75,427.06L682.40,428.95L683.69,430.22L684.99,430.85L686.93,430.85L688.22,430.22L689.51,428.95L690.16,427.06L690.16,425.79L689.51,423.90L688.22,422.63L686.93,422.00L684.99,422.00 M701.81,417.58L701.81,430.85 M701.81,423.90L700.51,422.63L699.22,422.00L697.28,422.00L695.98,422.63L694.69,423.90L694.04,425.79L694.04,427.06L694.69,428.95L695.98,430.22L697.28,430.85L699.22,430.85L700.51,430.22L701.81,428.95 M706.34,425.79L714.10,425.79L714.10,424.53L713.45,423.27L712.81,422.63L711.51,422.00L709.57,422.00L708.28,422.63L706.98,423.90L706.34,425.79L706.34,427.06L706.98,428.95L708.28,430.22L709.57,430.85L711.51,430.85L712.81,430.22L714.10,428.95 M718.63,417.58L718.63,430.85 M737.39,417.58L732.22,430.85 M737.39,417.58L742.57,430.85 M734.16,426.43L740.63,426.43"/>
<path stroke="#0f0" d="M461.12,441.48L455.95,454.75 M461.12,441.48L466.30,454.75 M457.89,450.33L464.36,450.33 M469.53,441.48L469.53,454.75 M469.53,447.80L470.83,446.53L472.12,445.90L474.06,445.90L475.36,446.53L476.65,447.80L477.30,449.69L477.30,450.96L476.65,452.85L475.36,454.12L474.06,454.75L472.12,454.75L470.83,454.12L469.53,452.85 M488.94,441.48L488.94,454.75 M488.94,447.80L487.65,446.53L486.36,445.90L484.42,445.90L483.12,446.53L481.83,447.80L481.18,449.69L481.18,450.96L481.83,452.85L483.12,454.12L484.42,454.75L486.36,454.75L487.65,454.12L488.94,452.85 M501.24,445.90L501.24,454.75 M501.24,447.80L499.94,446.53L498.65,445.90L496.71,445.90L495.41,446.53L494.12,447.80L493.47,449.69L493.47,450.96L494.12,452.85L495.41,454.12L496.71,454.75L498.65,454.75L499.94,454.12L501.24,452.85 M506.41,441.48L506.41,454.75 M511.59,441.48L511.59,454.75 M523.88,445.90L523.88,454.75 M523.88,447.80L522.59,446.53L521.29,445.90L519.35,445.90L518.06,446.53L516.76,447.80L516.12,449.69L516.12,450.96L516.76,452.85L518.06,454.12L519.35,454.75L521.29,454.75L522.59,454.12L523.88,452.85 M551.70,447.17L551.70,446.53L551.06,445.90L550.41,445.90L549.76,446.53L549.12,447.80L547.82,450.96L546.53,452.85L545.23,454.12L543.94,454.75L541.35,454.75L540.06,454.12L539.41,453.49L538.76,452.22L538.76,450.96L539.41,449.69L540.06,449.06L544.59,446.53L545.23,445.90L545.88,444.64L545.88,443.37L545.23,442.11L543.94,441.48L542.64,442.11L542.00,443.37L542.00,444.64L542.64,446.53L543.94,448.43L547.17,452.85L548.47,454.12L549.76,454.75L551.06,454.75L551.70,454.12L551.70,453.49 M566.58,441.48L566.58,454.75 M566.58,441.48L572.41,441.48L574.35,442.11L575.00,442.74L575.64,444.01L575.64,445.27L575.00,446.53L574.35,447.17L572.41,447.80L566.58,447.80 M571.11,447.80L575.64,454.75 M587.29,445.90L587.29,454.75 M587.29,447.80L585.99,446.53L584.70,445.90L582.76,445.90L581.47,446.53L580.17,447.80L579.52,449.69L579.52,450.96L580.17,452.85L581.47,454.12L582.76,454.75L584.70,454.75L585.99,454.12L587.29,452.85 M591.82,445.90L594.40,454.75 M596.99,445.90L594.40,454.75 M596.99,445.90L599.58,454.75 M602.17,445.90L599.58,454.75 M606.70,441.48L606.70,454.75 M611.23,441.48L611.87,442.11L612.52,441.48L611.87,440.85L611.23,441.48 M611.87,445.90L611.87,454.75 M617.05,445.90L617.05,454.75 M617.05,448.43L618.99,446.53L620.29,445.90L622.23,445.90L623.52,446.53L624.17,448.43L624.17,454.75 M636.46,445.90L636.46,456.01L635.81,457.91L635.17,458.54L633.87,459.17L631.93,459.17L630.64,458.54 M636.46,447.80L635.17,446.53L633.87,445.90L631.93,445.90L630.64,446.53L629.34,447.80L628.70,449.69L628.70,450.96L629.34,452.85L630.64,454.12L631.93,454.75L633.87,454.75L635.17,454.12L636.46,452.85 M648.11,447.80L647.46,446.53L645.52,445.90L643.58,445.90L641.64,446.53L640.99,447.80L641.64,449.06L642.93,449.69L646.16,450.33L647.46,450.96L648.11,452.22L648.11,452.85L647.46,454.12L645.52,454.75L643.58,454.75L641.64,454.12L640.99,452.85 M662.99,445.90L662.99,454.75 M662.99,448.43L664.93,446.53L666.22,445.90L668.16,445.90L669.46,446.53L670.10,448.43L670.10,454.75 M670.10,448.43L672.05,446.53L673.34,445.90L675.28,445.90L676.57,446.53L677.22,448.43L677.22,454.75 M684.99,445.90L683.69,446.53L682.40,447.80L681.75,449.69L681.75,450.96L682.40,452.85L683.69,454.12L684.99,454.75L686.93,454.75L688.22,454.12L689.51,452.85L690.16,450.96L690.16,449.69L689.51,447.80L688.22,446.53L686.93,445.90L684.99,445.90 M701.81,441.48L701.81,454.75 M701.81,447.80L700.51,446.53L699.22,445.90L697.28,445.90L695.98,446.53L694.69,447.80L694.04,449.69L694.04,450.96L694.69,452.85L695.98,454.12L697.28,454.75L699.22,454.75L700.51,454.12L701.81,452.85 M706.34,449.69L714.10,449.69L714.10,448.43L713.45,447.17L712.81,446.53L711.51,445.90L709.57,445.90L708.28,446.53L706.98,447.80L706.34,449.69L706.34,450.96L706.98,452.85L708.28,454.12L709.57,454.75L711.51,454.75L712.81,454.12L714.10,452.85 M718.63,441.48L718.63,454.75 M734.16,441.48L734.16,454.75 M734.16,441.48L739.98,441.48L741.92,442.11L742.57,442.74L743.22,444.01L743.22,445.27L742.57,446.53L741.92,447.17L739.98,447.80 M734.16,447.80L739.98,447.80L741.92,448.43L742.57,449.06L743.22,450.33L743.22,452.22L742.57,453.49L741.92,454.12L739.98,454.75L734.16,454.75"/>
<path stroke="#00f" d="M461.12,465.18L455.95,478.45 M461.12,465.18L466.30,478.45 M457.89,474.03L464.36,474.03 M469.53,465.18L469.53,478.45 M469.53,471.50L470.83,470.23L472.12,469.60L474.06,469.60L475.36,470.23L476.65,471.50L477.30,473.39L477.30,474.66L476.65,476.55L475.36,477.82L474.06,478.45L472.12,478.45L470.83,477.82L469.53,476.55 M488.94,465.18L488.94,478.45 M488.94,471.50L487.65,470.23L486.36,469.60L484.42,469.60L483.12,470.23L481.83,471.50L481.18,473.39L481.18,474.66L481.83,476.55L483.12,477.82L484.42,478.45L486.36,478.45L487.65,477.82L488.94,476.55 M501.24,469.60L501.24,478.45 M501.24,471.50L499.94,470.23L498.65,469.60L496.71,469.60L495.41,470.23L494.12,471.50L493.47,473.39L493.47,474.66L494.12,476.55L495.41,477.82L496.71,478.45L498.65,478.45L499.94,477.82L501.24,476.55 M506.41,465.18L506.41,478.45 M511.59,465.18L511.59,478.45 M523.88,469.60L523.88,478.45 M523.88,471.50L522.59,470.23L521.29,469.60L519.35,469.60L518.06,470.23L516.76,471.50L516.12,473.39L516.12,474.66L516.76,476.55L518.06,477.82L519.35,478.45L521.29,478.45L522.59,477.82L523.88,476.55 M551.70,470.87L551.70,470.23L551.06,469.60L550.41,469.60L549.76,470.23L549.12,471.50L547.82,474.66L546.53,476.55L545.23,477.82L543.94,478.45L541.35,478.45L540.06,477.82L539.41,477.19L538.76,475.92L538.76,474.66L539.41,473.39L540.06,472.76L544.59,470.23L545.23,469.60L545.88,468.34L545.88,467.07L545.23,465.81L543.94,465.18L542.64,465.81L542.00,467.07L542.00,468.34L542.64,470.23L543.94,472.13L547.17,476.55L548.47,477.82L549.76,478.45L551.06,478.45L551.70,477.82L551.70,477.19 M566.58,465.18L566.58,478.45 M566.58,465.18L572.41,465.18L574.35,465.81L575.00,466.44L575.64,467.71L575.64,468.97L575.00,470.23L574.35,470.87L572.41,471.50L566.58,471.50 M571.11,471.50L575.64,478.45 M587.29,469.60L587.29,478.45 M587.29,471.50L585.99,470.23L584.70,469.60L582.76,469.60L581.47,470.23L580.17,471.50L579.52,473.39L579.52,474.66L580.17,476.55L581.47,477.82L582.76,478.45L584.70,478.45L585.99,477.82L587.29,476.55 M591.82,469.60L594.40,478.45 M596.99,469.60L594.40,478.45 M596.99,469.60L599.58,478.45 M602.17,469.60L599.58,478.45 M606.70,465.18L606.70,478.45 M611.23,465.18L611.87,465.81L612.52,465.18L611.87,464.55L611.23,465.18 M611.87,469.60L611.87,478.45 M617.05,469.60L617.05,478.45 M617.05,472.13L618.99,470.23L620.29,469.60L622.23,469.60L623.52,470.23L624.17,472.13L624.17,478.45 M636.46,469.60L636.46,479.71L635.81,481.61L635.17,482.24L633.87,482.87L631.93,482.87L630.64,482.24 M636.46,471.50L635.17,470.23L633.87,469.60L631.93,469.60L630.64,470.23L629.34,471.50L628.70,473.39L628.70,474.66L629.34,476.55L630.64,477.82L631.93,478.45L633.87,478.45L635.17,477.82L636.46,476.55 M648.11,471.50L647.46,470.23L645.52,469.60L643.58,469.60L641.64,470.23L640.99,471.50L641.64,472.76L642.93,473.39L646.16,474.03L647.46,474.66L648.11,475.92L648.11,476.55L647.46,477.82L645.52,478.45L643.58,478.45L641.64,477.82L640.99,476.55 M662.99,469.60L662.99,478.45 M662.99,472.13L664.93,470.23L666.22,469.60L668.16,469.60L669.46,470.23L670.10,472.13L670.10,478.45 M670.10,472.13L672.05,470.23L673.34,469.60L675.28,469.60L676.57,470.23L677.22,472.13L677.22,478.45 M684.99,469.60L683.69,470.23L682.40,471.50L681.75,473.39L681.75,474.66L682.40,476.55L683.69,477.82L684.99,478.45L686.93,478.45L688.22,477.82L689.51,476.55L690.16,474.66L690.16,473.39L689.51,471.50L688.22,470.23L686.93,469.60L684.99,469.60 M701.81,465.18L701.81,478.45 M701.81,471.50L700.51,470.23L699.22,469.60L697.28,469.60L695.98,470.23L694.69,471.50L694.04,473.39L694.04,474.66L694.69,476.55L695.98,477.82L697.28,478.45L699.22,478.45L700.51,477.82L701.81,476.55 M706.34,473.39L714.10,473.39L714.10,472.13L713.45,470.87L712.81,470.23L711.51,469.60L709.57,469.60L708.28,470.23L706.98,471.50L706.34,473.39L706.34,474.66L706.98,476.55L708.28,477.82L709.57,478.45L711.51,478.45L712.81,477.82L714.10,476.55 M718.63,465.18L718.63,478.45 M743.22,468.34L742.57,467.07L741.27,465.81L739.98,465.18L737.39,465.18L736.10,465.81L734.80,467.07L734.16,468.34L733.51,470.23L733.51,473.39L734.16,475.29L734.80,476.55L736.10,477.82L737.39,478.45L739.98,478.45L741.27,477.82L742.57,476.55L743.22,475.29"/>
</g>
</svg>
</body></html>
